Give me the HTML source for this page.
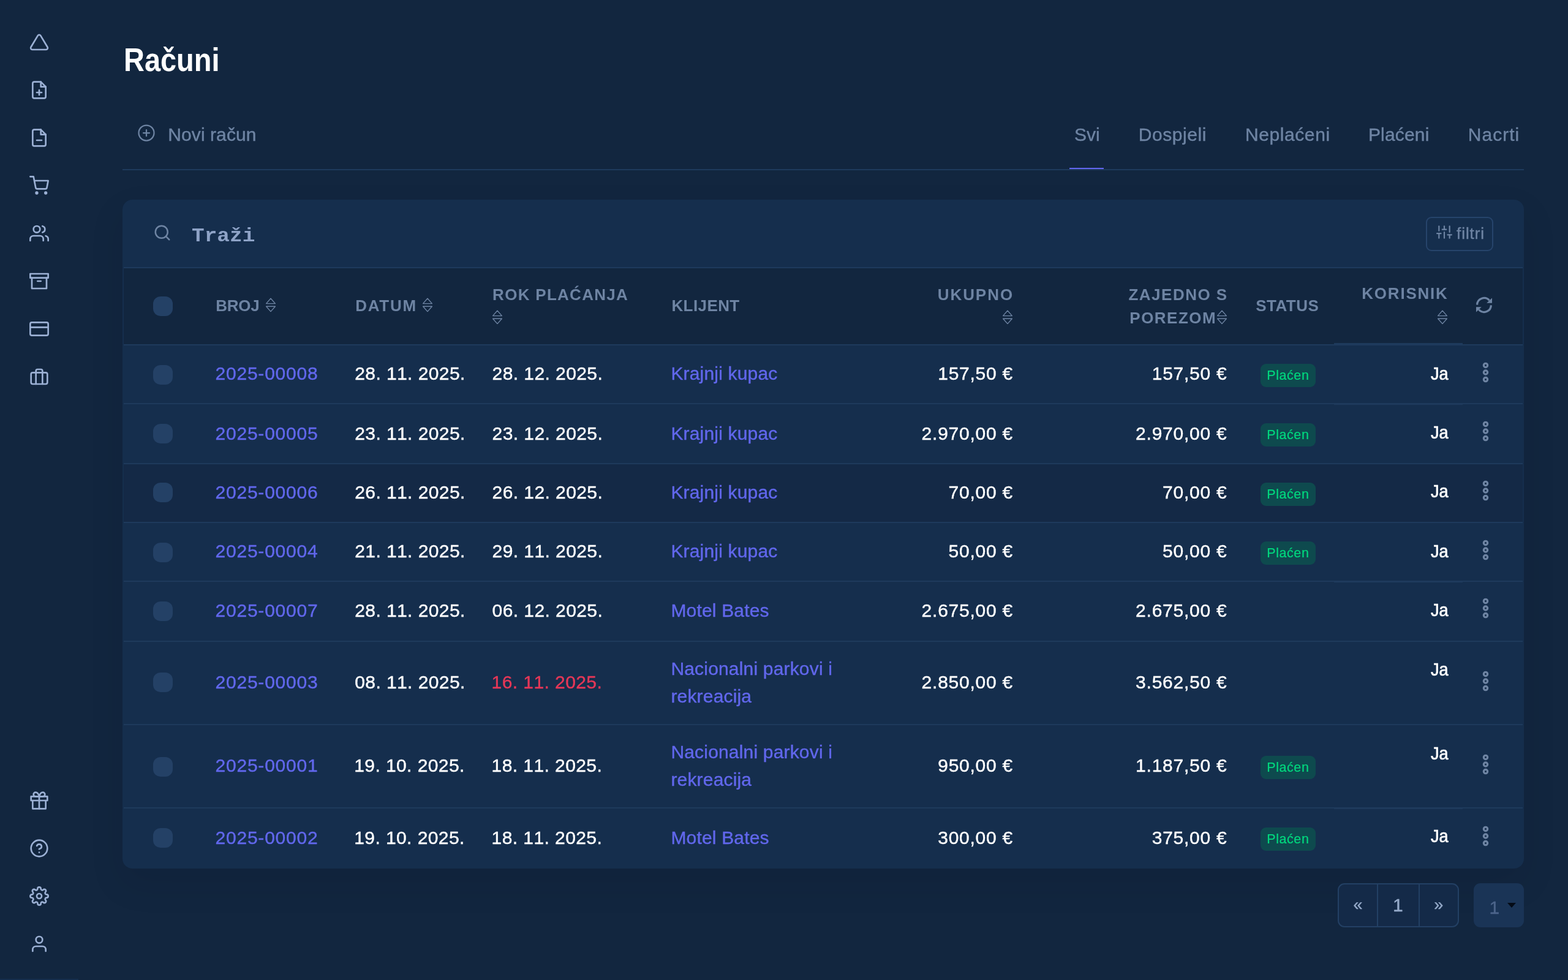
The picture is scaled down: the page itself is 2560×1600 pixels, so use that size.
<!DOCTYPE html>
<html lang="hr">
<head>
<meta charset="utf-8">
<title>Računi</title>
<style>
*{box-sizing:border-box;margin:0;padding:0}
html,body{width:2560px;height:1600px;overflow:hidden;background:#12263F}
@media (max-width:1400px){html{zoom:.5}}
body{position:relative;font-family:"Liberation Sans", sans-serif;color:#fff}
a{text-decoration:none}
.t{position:absolute;display:block;white-space:nowrap;line-height:1;font-weight:normal;font-family:"Liberation Sans", sans-serif;
  transform-origin:0 0;-webkit-text-stroke:.4px currentColor}
.t.b{font-weight:bold;-webkit-text-stroke:0}
.t.m{font-family:"Liberation Mono", monospace}
.t.nk{font-kerning:none}
.t.ja{-webkit-text-stroke:.7px #fff}
.t.gr{-webkit-text-stroke:.2px currentColor}
.s21_5{font-size:21.5px}
.s26{font-size:26px}
.s27{font-size:27px}
.s30{font-size:30px}
.s30_5{font-size:30.5px}
.s54{font-size:54px}
.wh{color:#fff}.mu{color:#6E84A3}.lk{color:#6167EC}.rd{color:#E63757}.gr{color:#00D97E}
.pg{color:#95AAC9}.dm{color:#4C648A}.ph{color:#8EA3C7}
.i{position:absolute;display:block;overflow:visible}
.side{position:absolute;left:0;top:0;width:128px;height:1600px;background:#12263F}
.side .bar{position:absolute;left:0;bottom:0;width:128px;height:2px;background:#152E4D}
.hr{position:absolute;left:200px;top:276px;width:2288px;height:2px;background:#1E3A5C}
.act{position:absolute;left:1746px;top:274px;width:56px;height:2px;background:#6366F1}
.cardbg{position:absolute;left:200px;top:326px;width:2288px;height:1092px;background:#152E4D;border-radius:16px;
  box-shadow:0 24px 56px rgba(6,14,28,.10)}
.theadbg{position:absolute;left:202px;top:438px;width:2284px;height:124px;background:#12263F}
.rowbg{position:absolute;left:202px;width:2284px;background:#142946}
.hl{position:absolute;left:202px;width:2284px;height:2px;background:#1E3A5C}
.kl{position:absolute;left:2178px;width:210px;height:2px;background:#1E3A5C}
.chk{position:absolute;left:250px;width:32px;height:32px;border-radius:12px;background:#244166}
.badge{position:absolute;left:2058px;width:90px;height:38px;border-radius:9px;background:#0E4A4E}
.btn{position:absolute;left:2328px;top:354px;width:110px;height:56px;border:2px solid #26446B;border-radius:9px}
.pager{position:absolute;left:2184px;top:1442px;width:198px;height:72px;border:2px solid #234064;border-radius:11px;background:#142A48}
.pager i{position:absolute;top:0;width:2px;height:68px;background:#234064}
.sel{position:absolute;left:2406px;top:1442px;width:82px;height:72px;border-radius:11px;background:#1A3456}
.caret{position:absolute;left:2460.5px;top:1473.6px;width:0;height:0;border-left:7.6px solid transparent;
  border-right:7.6px solid transparent;border-top:8.6px solid #040B16}
</style>
</head>
<body>
<nav class="side" aria-label="Izbornik">
<svg class="i" style="left:48px;top:52.5px" width="32" height="32" viewBox="0 0 24 24" fill="none" stroke="#9BB0D4" stroke-width="2" stroke-linecap="round" stroke-linejoin="round"><path d="M10.29 3.86L1.82 18a2 2 0 0 0 1.71 3h16.94a2 2 0 0 0 1.71-3L13.71 3.86a2 2 0 0 0-3.42 0z"/></svg>
<svg class="i" style="left:48px;top:130.5px" width="32" height="32" viewBox="0 0 24 24" fill="none" stroke="#9BB0D4" stroke-width="2" stroke-linecap="round" stroke-linejoin="round"><path d="M14 2H6a2 2 0 0 0-2 2v16a2 2 0 0 0 2 2h12a2 2 0 0 0 2-2V8z"/><polyline points="14 2 14 8 20 8"/><line x1="12" y1="18" x2="12" y2="12"/><line x1="9" y1="15" x2="15" y2="15"/></svg>
<svg class="i" style="left:48px;top:208.5px" width="32" height="32" viewBox="0 0 24 24" fill="none" stroke="#9BB0D4" stroke-width="2" stroke-linecap="round" stroke-linejoin="round"><path d="M14 2H6a2 2 0 0 0-2 2v16a2 2 0 0 0 2 2h12a2 2 0 0 0 2-2V8z"/><polyline points="14 2 14 8 20 8"/><line x1="9" y1="15" x2="15" y2="15"/></svg>
<svg class="i" style="left:48px;top:286.5px" width="32" height="32" viewBox="0 0 24 24" fill="none" stroke="#9BB0D4" stroke-width="2" stroke-linecap="round" stroke-linejoin="round"><circle cx="9" cy="21" r="1"/><circle cx="20" cy="21" r="1"/><path d="M1 1h4l2.68 13.39a2 2 0 0 0 2 1.61h9.72a2 2 0 0 0 2-1.61L23 6H6"/></svg>
<svg class="i" style="left:48px;top:364.5px" width="32" height="32" viewBox="0 0 24 24" fill="none" stroke="#9BB0D4" stroke-width="2" stroke-linecap="round" stroke-linejoin="round"><path d="M17 21v-2a4 4 0 0 0-4-4H5a4 4 0 0 0-4 4v2"/><circle cx="9" cy="7" r="4"/><path d="M23 21v-2a4 4 0 0 0-3-3.87"/><path d="M16 3.13a4 4 0 0 1 0 7.75"/></svg>
<svg class="i" style="left:48px;top:442.5px" width="32" height="32" viewBox="0 0 24 24" fill="none" stroke="#9BB0D4" stroke-width="2" stroke-linecap="round" stroke-linejoin="round"><polyline points="21 8 21 21 3 21 3 8"/><rect x="1" y="3" width="22" height="5"/><line x1="10" y1="12" x2="14" y2="12"/></svg>
<svg class="i" style="left:48px;top:520.5px" width="32" height="32" viewBox="0 0 24 24" fill="none" stroke="#9BB0D4" stroke-width="2" stroke-linecap="round" stroke-linejoin="round"><rect x="1" y="4" width="22" height="16" rx="2" ry="2"/><line x1="1" y1="10" x2="23" y2="10"/></svg>
<svg class="i" style="left:48px;top:598.5px" width="32" height="32" viewBox="0 0 24 24" fill="none" stroke="#9BB0D4" stroke-width="2" stroke-linecap="round" stroke-linejoin="round"><rect x="2" y="7" width="20" height="14" rx="2" ry="2"/><path d="M16 21V5a2 2 0 0 0-2-2h-4a2 2 0 0 0-2 2v16"/></svg>
<svg class="i" style="left:48px;top:1290.5px" width="32" height="32" viewBox="0 0 24 24" fill="none" stroke="#9BB0D4" stroke-width="2" stroke-linecap="round" stroke-linejoin="round"><polyline points="20 12 20 22 4 22 4 12"/><rect x="2" y="7" width="20" height="5"/><line x1="12" y1="22" x2="12" y2="7"/><path d="M12 7H7.5a2.5 2.5 0 0 1 0-5C11 2 12 7 12 7z"/><path d="M12 7h4.5a2.5 2.5 0 0 0 0-5C13 2 12 7 12 7z"/></svg>
<svg class="i" style="left:48px;top:1368.5px" width="32" height="32" viewBox="0 0 24 24" fill="none" stroke="#9BB0D4" stroke-width="2" stroke-linecap="round" stroke-linejoin="round"><circle cx="12" cy="12" r="10"/><path d="M9.09 9a3 3 0 0 1 5.83 1c0 2-3 3-3 3"/><line x1="12" y1="17" x2="12.01" y2="17"/></svg>
<svg class="i" style="left:48px;top:1446.5px" width="32" height="32" viewBox="0 0 24 24" fill="none" stroke="#9BB0D4" stroke-width="2" stroke-linecap="round" stroke-linejoin="round"><circle cx="12" cy="12" r="3"/><path d="M19.4 15a1.65 1.65 0 0 0 .33 1.82l.06.06a2 2 0 0 1 0 2.83 2 2 0 0 1-2.83 0l-.06-.06a1.65 1.65 0 0 0-1.82-.33 1.65 1.65 0 0 0-1 1.51V21a2 2 0 0 1-2 2 2 2 0 0 1-2-2v-.09A1.65 1.65 0 0 0 9 19.4a1.65 1.65 0 0 0-1.82.33l-.06.06a2 2 0 0 1-2.83 0 2 2 0 0 1 0-2.83l.06-.06a1.65 1.65 0 0 0 .33-1.82 1.65 1.65 0 0 0-1.51-1H3a2 2 0 0 1-2-2 2 2 0 0 1 2-2h.09A1.65 1.65 0 0 0 4.6 9a1.65 1.65 0 0 0-.33-1.82l-.06-.06a2 2 0 0 1 0-2.83 2 2 0 0 1 2.83 0l.06.06a1.65 1.65 0 0 0 1.82.33H9a1.65 1.65 0 0 0 1-1.51V3a2 2 0 0 1 2-2 2 2 0 0 1 2 2v.09a1.65 1.65 0 0 0 1 1.51 1.65 1.65 0 0 0 1.82-.33l.06-.06a2 2 0 0 1 2.83 0 2 2 0 0 1 0 2.83l-.06.06a1.65 1.65 0 0 0-.33 1.82V9a1.65 1.65 0 0 0 1.51 1H21a2 2 0 0 1 2 2 2 2 0 0 1-2 2h-.09a1.65 1.65 0 0 0-1.51 1z"/></svg>
<svg class="i" style="left:48px;top:1524.5px" width="32" height="32" viewBox="0 0 24 24" fill="none" stroke="#9BB0D4" stroke-width="2" stroke-linecap="round" stroke-linejoin="round"><path d="M20 21v-2a4 4 0 0 0-4-4H8a4 4 0 0 0-4 4v2"/><circle cx="12" cy="7" r="4"/></svg>
<div class="bar"></div>
</nav>
<main>
<header>
<h1 class="t s54 wh b" style="left:201.9px;top:70.2px;transform:scaleX(0.869);">Računi</h1>
<div class="toolbar">
<svg class="i" style="left:223.75px;top:202px" width="30" height="30" viewBox="0 0 24 24" fill="none" stroke="#6E84A3" stroke-width="1.8" stroke-linecap="round" stroke-linejoin="round"><circle cx="12" cy="12" r="10"/><line x1="12" y1="8" x2="12" y2="16"/><line x1="8" y1="12" x2="16" y2="12"/></svg>
<a href="#" class="t s30 mu" style="left:274.3px;top:205.1px;letter-spacing:0.08px;">Novi račun</a>
<nav class="tabs" aria-label="Filtri statusa">
<a href="#" class="t s30 mu" style="left:1754.0px;top:205.2px;letter-spacing:-0.05px;">Svi</a>
<a href="#" class="t s30 mu" style="left:1858.7px;top:205.2px;letter-spacing:0.58px;">Dospjeli</a>
<a href="#" class="t s30 mu" style="left:2033.0px;top:205.2px;letter-spacing:0.58px;">Neplaćeni</a>
<a href="#" class="t s30 mu" style="left:2233.9px;top:205.2px;letter-spacing:0.18px;">Plaćeni</a>
<a href="#" class="t s30 mu" style="left:2396.8px;top:205.2px;letter-spacing:1.01px;">Nacrti</a>
<i class="act"></i>
</nav>
</div>
<div class="hr"></div>
</header>
<section class="card">
<div class="cardbg"></div>
<div class="search">
<svg class="i" style="left:250px;top:364.5px" width="30" height="30" viewBox="0 0 24 24" fill="none" stroke="#6E84A3" stroke-width="2" stroke-linecap="round" stroke-linejoin="round"><circle cx="11" cy="11" r="8"/><line x1="21" y1="21" x2="16.65" y2="16.65"/></svg>
<span class="t s30_5 ph b m" style="left:313.0px;top:371.0px;transform:scaleX(1.129);">Traži</span>
<div class="btn"></div>
<svg class="i" style="left:2345px;top:366px" width="26" height="26" viewBox="0 0 24 24" fill="none" stroke="#6E84A3" stroke-width="2" stroke-linecap="round" stroke-linejoin="round"><line x1="4" y1="21" x2="4" y2="14"/><line x1="4" y1="10" x2="4" y2="3"/><line x1="12" y1="21" x2="12" y2="12"/><line x1="12" y1="8" x2="12" y2="3"/><line x1="20" y1="21" x2="20" y2="16"/><line x1="20" y1="12" x2="20" y2="3"/><line x1="1" y1="14" x2="7" y2="14"/><line x1="9" y1="8" x2="15" y2="8"/><line x1="17" y1="16" x2="23" y2="16"/></svg>
<span class="t s26 mu" style="left:2378.1px;top:368.0px;letter-spacing:0.91px;">filtri</span>
</div>
<div class="hl" style="top:436px"></div>
<div class="table">
<div class="thead">
<div class="theadbg"></div>
<span class="chk" style="top:484px"></span>
<span class="t s26 mu b" style="left:352.3px;top:486.0px;letter-spacing:-0.29px;">BROJ</span>
<span class="t s26 mu b" style="left:580.2px;top:486.0px;letter-spacing:1.73px;">DATUM</span>
<span class="t s26 mu b" style="left:804.1px;top:468.0px;letter-spacing:1.29px;">ROK PLAĆANJA</span>
<span class="t s26 mu b" style="left:1096.4px;top:486.0px;letter-spacing:0.42px;">KLIJENT</span>
<span class="t s26 mu b" style="left:1530.7px;top:468.0px;letter-spacing:1.95px;">UKUPNO</span>
<span class="t s26 mu b" style="left:1842.5px;top:468.0px;letter-spacing:1.48px;">ZAJEDNO S</span>
<span class="t s26 mu b" style="left:1844.3px;top:506.0px;letter-spacing:1.49px;">POREZOM</span>
<span class="t s26 mu b" style="left:2050.2px;top:486.0px;letter-spacing:0.48px;">STATUS</span>
<span class="t s26 mu b" style="left:2223.3px;top:466.3px;letter-spacing:1.78px;">KORISNIK</span>
<svg class="i" style="left:433.4px;top:485.9px" width="18" height="24" viewBox="0 0 18 24" fill="none" stroke="#6E84A3" stroke-width="1.4" stroke-linejoin="round"><path d="M1.6 9.6 L9 1.2 L16.4 9.6 Z"/><path d="M1.6 14.2 L16.4 14.2 L9 22.6 Z"/></svg>
<svg class="i" style="left:689.0px;top:485.9px" width="18" height="24" viewBox="0 0 18 24" fill="none" stroke="#6E84A3" stroke-width="1.4" stroke-linejoin="round"><path d="M1.6 9.6 L9 1.2 L16.4 9.6 Z"/><path d="M1.6 14.2 L16.4 14.2 L9 22.6 Z"/></svg>
<svg class="i" style="left:803.0px;top:505.9px" width="18" height="24" viewBox="0 0 18 24" fill="none" stroke="#6E84A3" stroke-width="1.4" stroke-linejoin="round"><path d="M1.6 9.6 L9 1.2 L16.4 9.6 Z"/><path d="M1.6 14.2 L16.4 14.2 L9 22.6 Z"/></svg>
<svg class="i" style="left:1636.0px;top:505.9px" width="18" height="24" viewBox="0 0 18 24" fill="none" stroke="#6E84A3" stroke-width="1.4" stroke-linejoin="round"><path d="M1.6 9.6 L9 1.2 L16.4 9.6 Z"/><path d="M1.6 14.2 L16.4 14.2 L9 22.6 Z"/></svg>
<svg class="i" style="left:1985.8px;top:505.9px" width="18" height="24" viewBox="0 0 18 24" fill="none" stroke="#6E84A3" stroke-width="1.4" stroke-linejoin="round"><path d="M1.6 9.6 L9 1.2 L16.4 9.6 Z"/><path d="M1.6 14.2 L16.4 14.2 L9 22.6 Z"/></svg>
<svg class="i" style="left:2345.9px;top:505.9px" width="18" height="24" viewBox="0 0 18 24" fill="none" stroke="#6E84A3" stroke-width="1.4" stroke-linejoin="round"><path d="M1.6 9.6 L9 1.2 L16.4 9.6 Z"/><path d="M1.6 14.2 L16.4 14.2 L9 22.6 Z"/></svg>
<svg class="i" style="left:2407px;top:482.2px" width="32" height="32" viewBox="-16 -16 32 32" fill="none"><path d="M-11.4 -0.4 A11.4 11.4 0 0 1 8.6 -7.5" stroke="#6E84A3" stroke-width="3.2"/><path d="M11.4 0.4 A11.4 11.4 0 0 1 -8.6 7.5" stroke="#6E84A3" stroke-width="3.2"/><path d="M13 -11.6 L13 -3.3 L4.2 -3.3 Z" fill="#6E84A3"/><path d="M-13 11.6 L-13 3.3 L-4.2 3.3 Z" fill="#6E84A3"/></svg>
<div class="hl" style="top:562px"></div>
<div class="kl" style="top:560px"></div>
</div>
<div class="tr">
<span class="chk" style="top:596px"></span>
<span class="badge" style="top:594.0px"></span>
<a href="#" class="t s30 lk nk" style="left:351.5px;top:595.2px;letter-spacing:0.78px;">2025-00008</a>
<span class="t s30 wh nk" style="left:579.2px;top:595.2px;letter-spacing:0.42px;">28. 11. 2025.</span>
<span class="t s30 wh nk" style="left:803.6px;top:595.2px;letter-spacing:0.42px;">28. 12. 2025.</span>
<a href="#" class="t s30 lk" style="left:1095.4px;top:595.2px;letter-spacing:0.18px;">Krajnji kupac</a>
<span class="t s30 wh nk" style="left:1531.2px;top:595.2px;letter-spacing:0.76px;">157,50 €</span>
<span class="t s30 wh nk" style="left:1880.7px;top:595.2px;letter-spacing:0.76px;">157,50 €</span>
<span class="t s21_5 gr" style="left:2068.3px;top:603.2px;letter-spacing:0.56px;">Plaćen</span>
<span class="t s30 wh ja" style="left:2335.9px;top:595.2px;transform:scaleX(0.903);">Ja</span>
<svg class="i" style="left:2410px;top:587.5px" width="32" height="40" viewBox="0 0 32 40" fill="none" stroke="#6E84A3" stroke-width="3.2"><circle cx="15.5" cy="8.4" r="3.15" /><circle cx="15.5" cy="20.0" r="3.15" /><circle cx="15.5" cy="31.6" r="3.15" /></svg>
<div class="hl" style="top:658px"></div>
<div class="kl" style="top:659px"></div>
</div>
<div class="tr">
<span class="chk" style="top:692px"></span>
<span class="badge" style="top:691.0px"></span>
<a href="#" class="t s30 lk nk" style="left:351.5px;top:693.0px;letter-spacing:0.78px;">2025-00005</a>
<span class="t s30 wh nk" style="left:579.2px;top:693.0px;letter-spacing:0.42px;">23. 11. 2025.</span>
<span class="t s30 wh nk" style="left:803.6px;top:693.0px;letter-spacing:0.42px;">23. 12. 2025.</span>
<a href="#" class="t s30 lk" style="left:1095.4px;top:693.0px;letter-spacing:0.18px;">Krajnji kupac</a>
<span class="t s30 wh nk" style="left:1504.6px;top:693.0px;letter-spacing:0.76px;">2.970,00 €</span>
<span class="t s30 wh nk" style="left:1854.1px;top:693.0px;letter-spacing:0.76px;">2.970,00 €</span>
<span class="t s21_5 gr" style="left:2068.3px;top:700.2px;letter-spacing:0.56px;">Plaćen</span>
<span class="t s30 wh ja" style="left:2335.9px;top:691.2px;transform:scaleX(0.903);">Ja</span>
<svg class="i" style="left:2410px;top:683.5px" width="32" height="40" viewBox="0 0 32 40" fill="none" stroke="#6E84A3" stroke-width="3.2"><circle cx="15.5" cy="8.4" r="3.15" /><circle cx="15.5" cy="20.0" r="3.15" /><circle cx="15.5" cy="31.6" r="3.15" /></svg>
<div class="hl" style="top:756px"></div>
</div>
<div class="tr hover">
<div class="rowbg" style="top:758px;height:94px"></div>
<span class="chk" style="top:788px"></span>
<span class="badge" style="top:788.0px"></span>
<a href="#" class="t s30 lk nk" style="left:351.5px;top:789.1px;letter-spacing:0.78px;">2025-00006</a>
<span class="t s30 wh nk" style="left:579.2px;top:789.1px;letter-spacing:0.42px;">26. 11. 2025.</span>
<span class="t s30 wh nk" style="left:803.6px;top:789.1px;letter-spacing:0.42px;">26. 12. 2025.</span>
<a href="#" class="t s30 lk" style="left:1095.4px;top:789.1px;letter-spacing:0.18px;">Krajnji kupac</a>
<span class="t s30 wh nk" style="left:1548.6px;top:789.1px;letter-spacing:0.76px;">70,00 €</span>
<span class="t s30 wh nk" style="left:1898.1px;top:789.1px;letter-spacing:0.76px;">70,00 €</span>
<span class="t s21_5 gr" style="left:2068.3px;top:797.2px;letter-spacing:0.56px;">Plaćen</span>
<span class="t s30 wh ja" style="left:2335.9px;top:787.4px;transform:scaleX(0.903);">Ja</span>
<svg class="i" style="left:2410px;top:781.0px" width="32" height="40" viewBox="0 0 32 40" fill="none" stroke="#6E84A3" stroke-width="3.2"><circle cx="15.5" cy="8.4" r="3.15" /><circle cx="15.5" cy="20.0" r="3.15" /><circle cx="15.5" cy="31.6" r="3.15" /></svg>
<div class="hl" style="top:852px"></div>
</div>
<div class="tr">
<span class="chk" style="top:886px"></span>
<span class="badge" style="top:884.0px"></span>
<a href="#" class="t s30 lk nk" style="left:351.5px;top:885.2px;letter-spacing:0.78px;">2025-00004</a>
<span class="t s30 wh nk" style="left:579.2px;top:885.2px;letter-spacing:0.42px;">21. 11. 2025.</span>
<span class="t s30 wh nk" style="left:803.6px;top:885.2px;letter-spacing:0.42px;">29. 11. 2025.</span>
<a href="#" class="t s30 lk" style="left:1095.4px;top:885.2px;letter-spacing:0.18px;">Krajnji kupac</a>
<span class="t s30 wh nk" style="left:1548.6px;top:885.2px;letter-spacing:0.76px;">50,00 €</span>
<span class="t s30 wh nk" style="left:1898.1px;top:885.2px;letter-spacing:0.76px;">50,00 €</span>
<span class="t s21_5 gr" style="left:2068.3px;top:893.2px;letter-spacing:0.56px;">Plaćen</span>
<span class="t s30 wh ja" style="left:2335.9px;top:885.0px;transform:scaleX(0.903);">Ja</span>
<svg class="i" style="left:2410px;top:877.5px" width="32" height="40" viewBox="0 0 32 40" fill="none" stroke="#6E84A3" stroke-width="3.2"><circle cx="15.5" cy="8.4" r="3.15" /><circle cx="15.5" cy="20.0" r="3.15" /><circle cx="15.5" cy="31.6" r="3.15" /></svg>
<div class="hl" style="top:948px"></div>
<div class="kl" style="top:949px"></div>
</div>
<div class="tr">
<span class="chk" style="top:982px"></span>
<a href="#" class="t s30 lk nk" style="left:351.5px;top:982.2px;letter-spacing:0.78px;">2025-00007</a>
<span class="t s30 wh nk" style="left:579.2px;top:982.2px;letter-spacing:0.42px;">28. 11. 2025.</span>
<span class="t s30 wh nk" style="left:803.6px;top:982.2px;letter-spacing:0.42px;">06. 12. 2025.</span>
<a href="#" class="t s30 lk" style="left:1095.4px;top:982.2px;letter-spacing:0.18px;">Motel Bates</a>
<span class="t s30 wh nk" style="left:1504.6px;top:982.2px;letter-spacing:0.76px;">2.675,00 €</span>
<span class="t s30 wh nk" style="left:1854.1px;top:982.2px;letter-spacing:0.76px;">2.675,00 €</span>
<span class="t s30 wh ja" style="left:2335.9px;top:981.2px;transform:scaleX(0.903);">Ja</span>
<svg class="i" style="left:2410px;top:973.0px" width="32" height="40" viewBox="0 0 32 40" fill="none" stroke="#6E84A3" stroke-width="3.2"><circle cx="15.5" cy="8.4" r="3.15" /><circle cx="15.5" cy="20.0" r="3.15" /><circle cx="15.5" cy="31.6" r="3.15" /></svg>
<div class="hl" style="top:1046px"></div>
</div>
<div class="tr">
<span class="chk" style="top:1098px"></span>
<a href="#" class="t s30 lk nk" style="left:351.5px;top:1098.6px;letter-spacing:0.78px;">2025-00003</a>
<span class="t s30 wh nk" style="left:579.2px;top:1098.6px;letter-spacing:0.42px;">08. 11. 2025.</span>
<span class="t s30 rd nk" style="left:802.6px;top:1098.6px;letter-spacing:0.42px;">16. 11. 2025.</span>
<a href="#" class="t s30 lk" style="left:1095.4px;top:1077.0px;letter-spacing:0.18px;">Nacionalni parkovi i</a>
<a href="#" class="t s30 lk" style="left:1095.4px;top:1121.5px;letter-spacing:0.18px;">rekreacija</a>
<span class="t s30 wh nk" style="left:1504.6px;top:1098.6px;letter-spacing:0.76px;">2.850,00 €</span>
<span class="t s30 wh nk" style="left:1854.1px;top:1098.6px;letter-spacing:0.76px;">3.562,50 €</span>
<span class="t s30 wh ja" style="left:2335.9px;top:1077.6px;transform:scaleX(0.903);">Ja</span>
<svg class="i" style="left:2410px;top:1091.5px" width="32" height="40" viewBox="0 0 32 40" fill="none" stroke="#6E84A3" stroke-width="3.2"><circle cx="15.5" cy="8.4" r="3.15" /><circle cx="15.5" cy="20.0" r="3.15" /><circle cx="15.5" cy="31.6" r="3.15" /></svg>
<div class="hl" style="top:1182px"></div>
</div>
<div class="tr">
<span class="chk" style="top:1236px"></span>
<span class="badge" style="top:1234.0px"></span>
<a href="#" class="t s30 lk nk" style="left:351.5px;top:1235.0px;letter-spacing:0.78px;">2025-00001</a>
<span class="t s30 wh nk" style="left:578.2px;top:1235.0px;letter-spacing:0.42px;">19. 10. 2025.</span>
<span class="t s30 wh nk" style="left:802.6px;top:1235.0px;letter-spacing:0.42px;">18. 11. 2025.</span>
<a href="#" class="t s30 lk" style="left:1095.4px;top:1213.0px;letter-spacing:0.18px;">Nacionalni parkovi i</a>
<a href="#" class="t s30 lk" style="left:1095.4px;top:1257.5px;letter-spacing:0.18px;">rekreacija</a>
<span class="t s30 wh nk" style="left:1531.2px;top:1235.0px;letter-spacing:0.76px;">950,00 €</span>
<span class="t s30 wh nk" style="left:1854.1px;top:1235.0px;letter-spacing:0.76px;">1.187,50 €</span>
<span class="t s21_5 gr" style="left:2068.3px;top:1243.2px;letter-spacing:0.56px;">Plaćen</span>
<span class="t s30 wh ja" style="left:2335.9px;top:1215.2px;transform:scaleX(0.903);">Ja</span>
<svg class="i" style="left:2410px;top:1227.5px" width="32" height="40" viewBox="0 0 32 40" fill="none" stroke="#6E84A3" stroke-width="3.2"><circle cx="15.5" cy="8.4" r="3.15" /><circle cx="15.5" cy="20.0" r="3.15" /><circle cx="15.5" cy="31.6" r="3.15" /></svg>
<div class="hl" style="top:1318px"></div>
<div class="kl" style="top:1319px"></div>
</div>
<div class="tr">
<span class="chk" style="top:1352px"></span>
<span class="badge" style="top:1351.0px"></span>
<a href="#" class="t s30 lk nk" style="left:351.5px;top:1352.8px;letter-spacing:0.78px;">2025-00002</a>
<span class="t s30 wh nk" style="left:578.2px;top:1352.8px;letter-spacing:0.42px;">19. 10. 2025.</span>
<span class="t s30 wh nk" style="left:802.6px;top:1352.8px;letter-spacing:0.42px;">18. 11. 2025.</span>
<a href="#" class="t s30 lk" style="left:1095.4px;top:1352.8px;letter-spacing:0.18px;">Motel Bates</a>
<span class="t s30 wh nk" style="left:1531.2px;top:1352.8px;letter-spacing:0.76px;">300,00 €</span>
<span class="t s30 wh nk" style="left:1880.7px;top:1352.8px;letter-spacing:0.76px;">375,00 €</span>
<span class="t s21_5 gr" style="left:2068.3px;top:1360.2px;letter-spacing:0.56px;">Plaćen</span>
<span class="t s30 wh ja" style="left:2335.9px;top:1350.4px;transform:scaleX(0.903);">Ja</span>
<svg class="i" style="left:2410px;top:1345.1px" width="32" height="40" viewBox="0 0 32 40" fill="none" stroke="#6E84A3" stroke-width="3.2"><circle cx="15.5" cy="8.4" r="3.15" /><circle cx="15.5" cy="20.0" r="3.15" /><circle cx="15.5" cy="31.6" r="3.15" /></svg>
</div>
</div>
</section>
<footer>
<div class="pager"><i style="left:62px"></i><i style="left:130px"></i></div>
<span class="t s27 pg" style="left:2209.6px;top:1464.2px;">«</span>
<span class="t s30 pg" style="left:2274.0px;top:1463.0px;">1</span>
<span class="t s27 pg" style="left:2341.3px;top:1464.2px;">»</span>
<div class="sel"></div>
<span class="t s30 dm" style="left:2431.5px;top:1467.0px;">1</span>
<div class="caret"></div>
</footer>
</main>
</body>
</html>
